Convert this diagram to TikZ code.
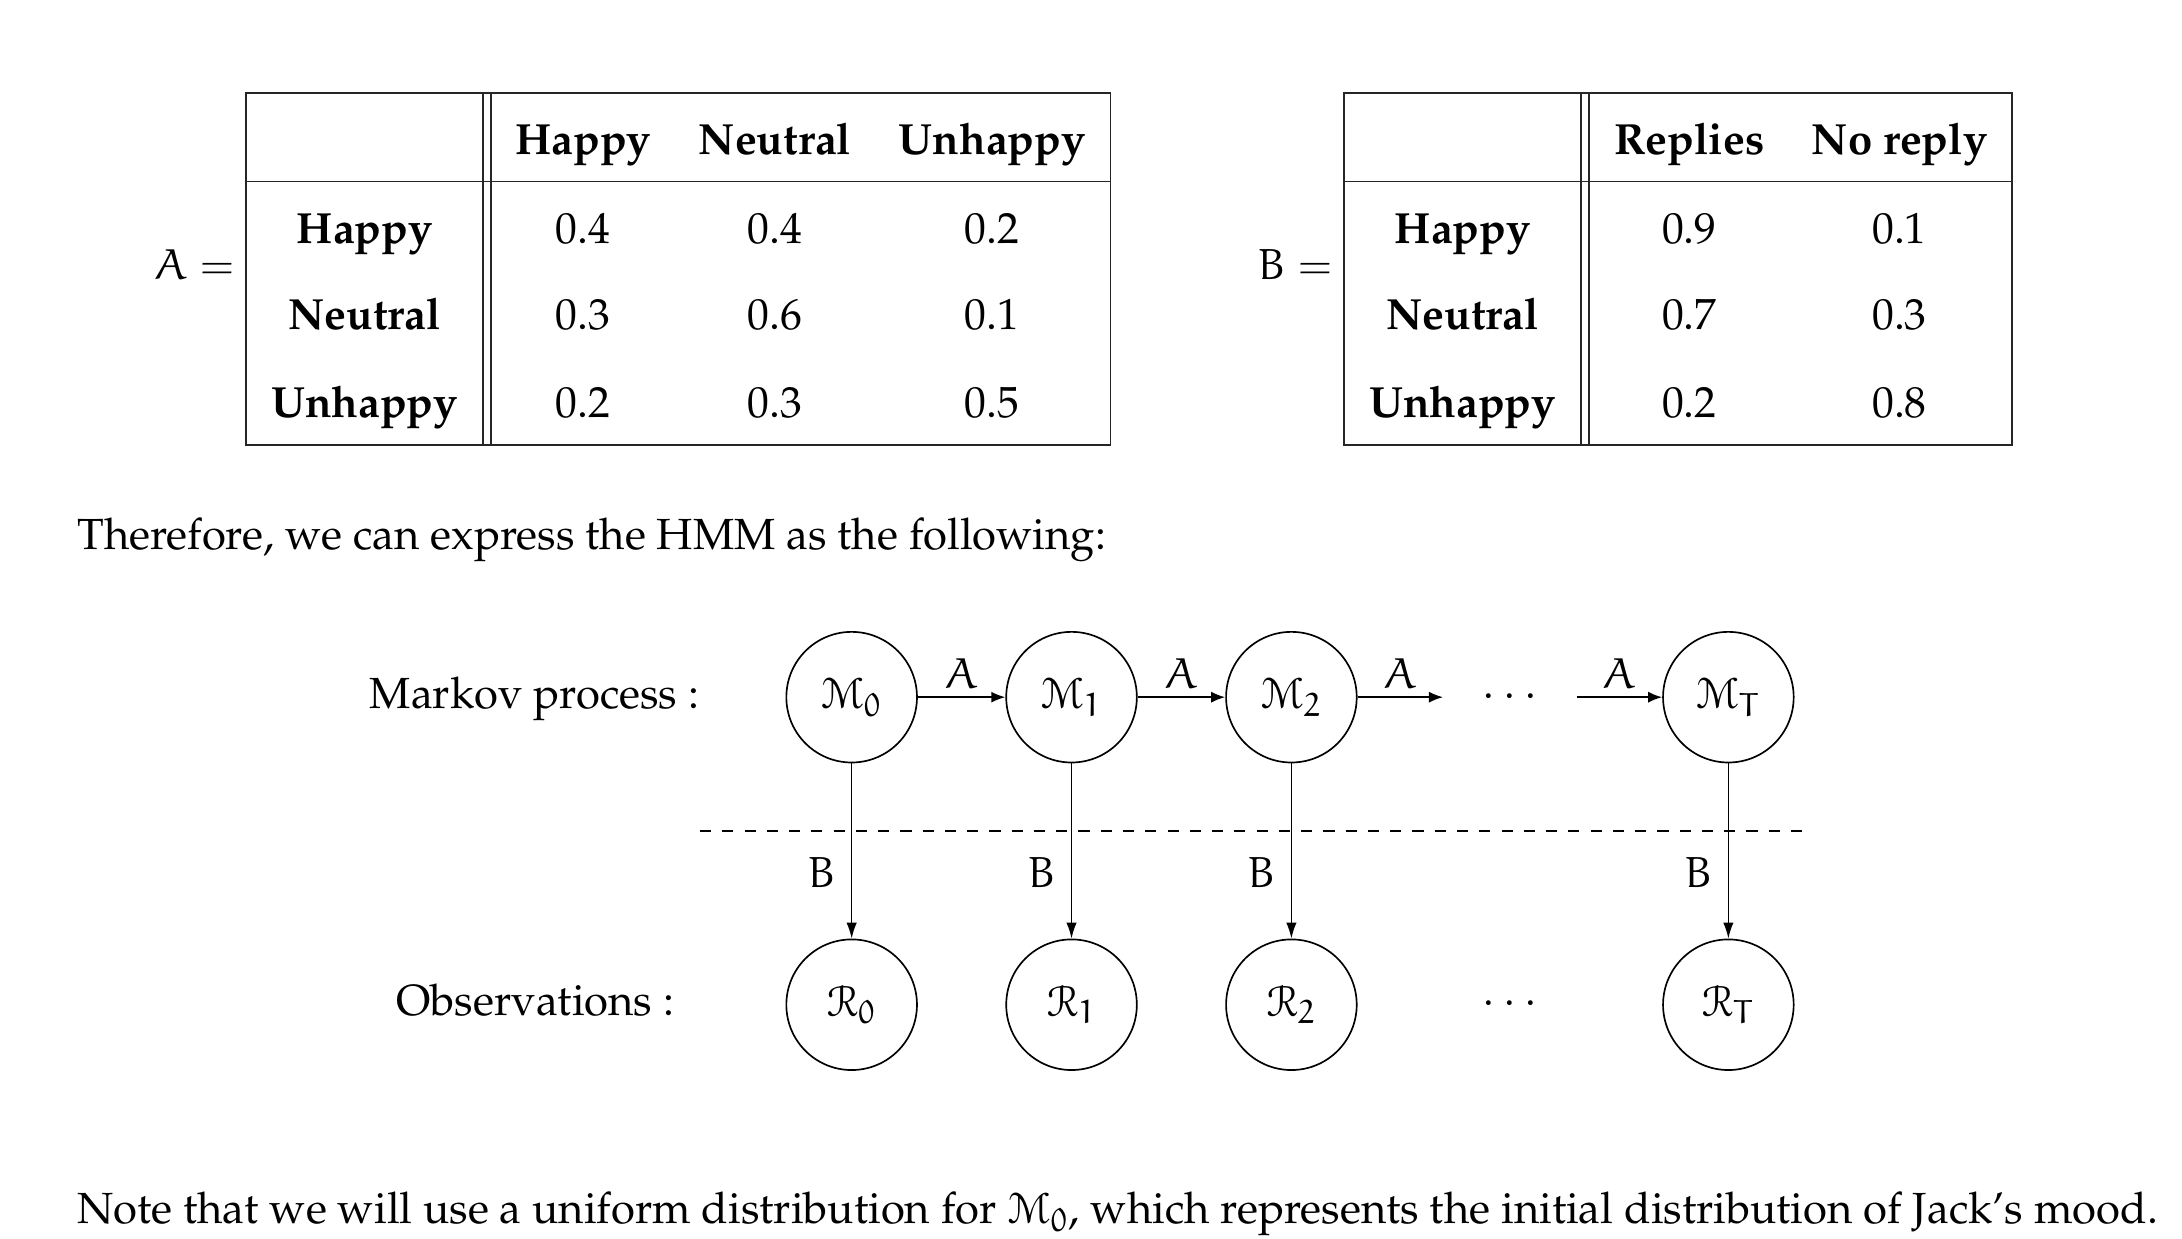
\documentclass[tikz,border=0pt]{standalone}
\usepackage[T1]{fontenc}
\usepackage{mathpazo}
\IfFileExists{euler.sty}{\usepackage{euler}}{}
\IfFileExists{eucal.sty}{\usepackage[mathcal]{eucal}}{}
\usetikzlibrary{arrows.meta}
\newcommand{\docfont}{\fontsize{11.75}{14}\selectfont}
\tikzset{
  gridline/.style={draw=black!85,line width=0.45pt},
  eqlabel/.style={anchor=base east,inner sep=0pt,font=\docfont},
  colhead/.style={anchor=base,inner sep=0pt,font=\docfont\bfseries},
  rowhead/.style={anchor=base,inner sep=0pt,font=\docfont\bfseries},
  cellval/.style={anchor=base,inner sep=0pt,font=\docfont},
  para/.style={anchor=base west,inner sep=0pt,font=\docfont},
  rowtitle/.style={anchor=base east,inner sep=0pt,font=\docfont},
  state/.style={circle,draw,line width=0.45pt,minimum size=35.2pt,inner sep=0pt,
    font=\docfont},
  trans/.style={-{Latex[length=3.8pt,width=3pt]},line width=0.5pt},
  emit/.style={-{Latex[length=4.3pt,width=2.8pt]},line width=0.4pt},
  alabel/.style={above,inner sep=2pt,font=\docfont},
  blabel/.style={left,pos=0.62,inner sep=4pt,font=\docfont},
  dots/.style={inner sep=0pt,font=\docfont},
  separator/.style={line width=0.45pt,dash pattern=on 3pt off 3pt}
}

\begin{document}
\begin{tikzpicture}[x=0.375pt,y=-0.375pt]
  \useasboundingbox (0,0) rectangle (1568,890);

  % Matriz de transicion A
  \draw[gridline] (177,67) rectangle (798,320);
  \draw[gridline] (177,130.5) -- (798,130.5);
  \draw[gridline] (347,67) -- (347,320) (353,67) -- (353,320);
  \node[eqlabel] (aeq) at (168,201) {$A =$};
  \node[colhead] (ahappy) at (419,111) {Happy};
  \node[colhead] (aneutral) at (557,111) {Neutral};
  \node[colhead] (aunhappy) at (713,111) {Unhappy};
  \foreach \y/\lbl/\p/\q/\r in {175/Happy/0.4/0.4/0.2,237/Neutral/0.3/0.6/0.1,300/Unhappy/0.2/0.3/0.5}{
    \node[rowhead] (arow-\lbl) at (262,\y) {\lbl};
    \node[cellval] (a-\lbl-1) at (419,\y) {\p};
    \node[cellval] (a-\lbl-2) at (557,\y) {\q};
    \node[cellval] (a-\lbl-3) at (713,\y) {\r};
  }

  % Matriz de emision B
  \draw[gridline] (966,67) rectangle (1446,320);
  \draw[gridline] (966,130.5) -- (1446,130.5);
  \draw[gridline] (1136,67) -- (1136,320) (1142,67) -- (1142,320);
  \node[eqlabel] (beq) at (957,201) {$B =$};
  \node[colhead] (breplies) at (1214,111) {Replies};
  \node[colhead] (bnoreply) at (1365,111) {No reply};
  \foreach \y/\lbl/\p/\q in {175/Happy/0.9/0.1,237/Neutral/0.7/0.3,300/Unhappy/0.2/0.8}{
    \node[rowhead] (brow-\lbl) at (1051,\y) {\lbl};
    \node[cellval] (b-\lbl-1) at (1214,\y) {\p};
    \node[cellval] (b-\lbl-2) at (1365,\y) {\q};
  }

  \node[para] (intro) at (55,395) {Therefore, we can express the HMM as the following:};

  % Cadena oculta y observaciones
  \node[rowtitle] (markov) at (503,509) {Markov process :};
  \node[rowtitle] (observ) at (485,730) {Observations :};
  \draw[separator] (503,597) -- (1302,597);
  \foreach \n/\x in {0/612,1/770,2/928,T/1242}{
    \node[state] (m\n) at (\x,501) {$\mathcal{M}_\n$};
    \node[state] (r\n) at (\x,722) {$\mathcal{R}_\n$};
    \draw[emit] (m\n) -- node[blabel] {$B$} (r\n);
  }
  \node[dots] (mdots) at (1085,501) {$\cdots$};
  \node[dots] (rdots) at (1085,722) {$\cdots$};
  \coordinate (mgapl) at (1037,501);
  \coordinate (mgapr) at (1133,501);
  \draw[trans] (m0) -- node[alabel] {$A$} (m1);
  \draw[trans] (m1) -- node[alabel] {$A$} (m2);
  \draw[trans] (m2) -- node[alabel] {$A$} (mgapl);
  \draw[trans] (mgapr) -- node[alabel] {$A$} (mT);

  \node[para] (note) at (55,879) {Note that we will use a uniform distribution for $\mathcal{M}_0$, which represents the initial distribution of Jack's mood.};
\end{tikzpicture}
\end{document}
